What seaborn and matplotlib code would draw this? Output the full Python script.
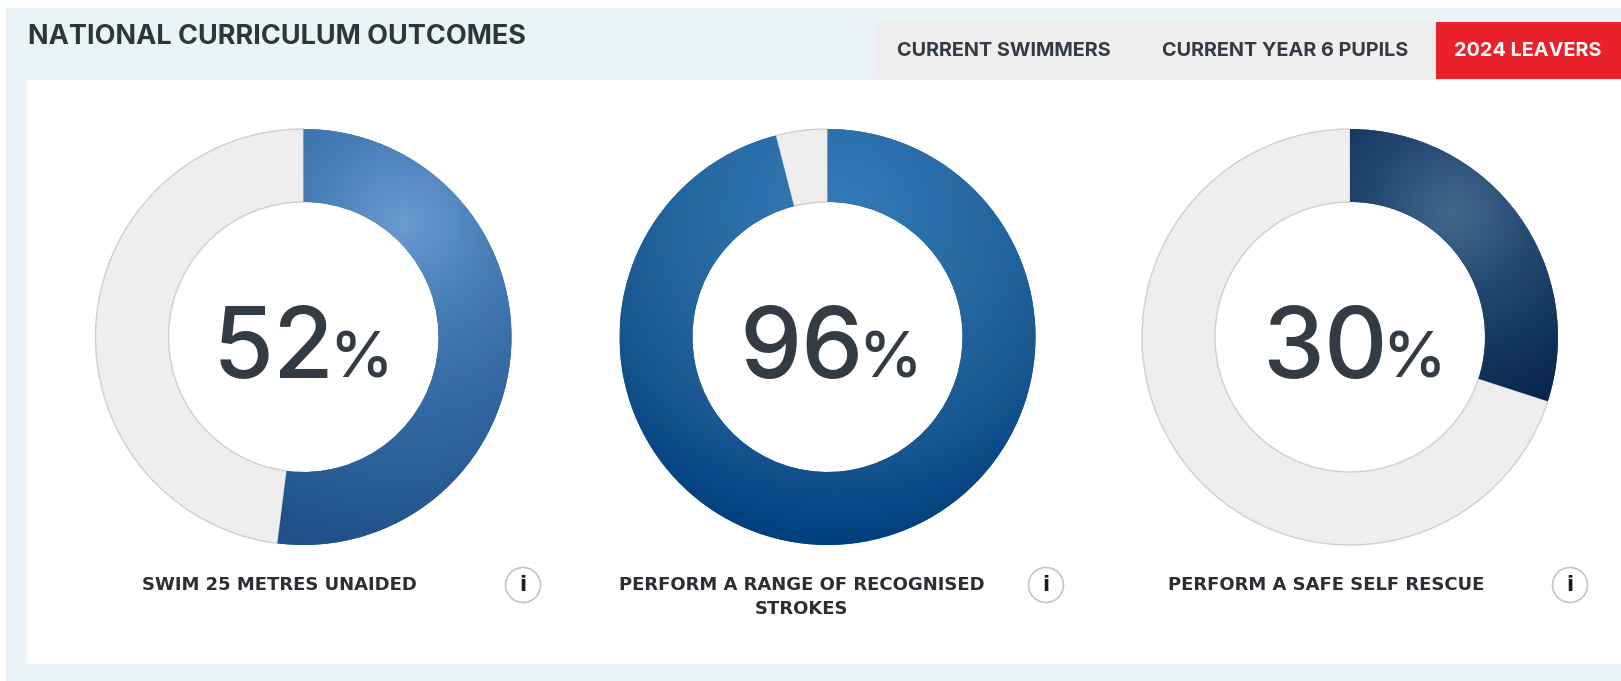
import matplotlib.pyplot as plt
from matplotlib.patches import Circle, Rectangle
import numpy as np
import seaborn as sns

# outcome values
captions = ["SWIM 25 METRES UNAIDED", "PERFORM A RANGE OF RECOGNISED\nSTROKES", "PERFORM A SAFE SELF RESCUE"]
percent = [52, 96, 30]
tabs = ["CURRENT SWIMMERS", "CURRENT YEAR 6 PUPILS", "2024 LEAVERS"]
title = "NATIONAL CURRICULUM OUTCOMES"

# pixel layout
W, H = 1621, 681
centers = [303.5, 827.5, 1350]
cy = 337
R = 208
r_in = 135
num_split = [335, 864, 1388]
cap_x = [279, 802, 1326]
info_x = [523, 1046, 1570]
tab_x = [1004, 1285, 1528]

# gradient stops per donut, highlight outwards
grad = [["#6a9bd1", "#4a80b8", "#376ca6", "#2a5f98", "#1f5087"],
        ["#347db8", "#2c70ab", "#24659f", "#175590", "#003f7d"],
        ["#44688c", "#234870", "#0f2f57", "#001f46", "#001a3f"]]
glow = [(0.48, 0.55), (0.05, 0.6), (0.5, 0.6)]

sns.set_theme(style="white")
plt.rcParams['font.family'] = ['Inter', 'DejaVu Sans']
ink = "#333b45"

fig = plt.figure(figsize=(W / 100, H / 100), dpi=100)
bg = fig.add_axes([0, 0, 1, 1])
bg.set_xlim(0, W)
bg.set_ylim(H, 0)
bg.axis("off")

# panels
bg.add_patch(Rectangle((6, 8), W - 6, H - 8, color="#eaf3f6", lw=0))
bg.add_patch(Rectangle((27, 80), W - 27, 584, color="white", lw=0))
bg.add_patch(Rectangle((874, 22), W - 874, 57, color="#eeeeee", lw=0))
bg.add_patch(Rectangle((1436, 22), W - 1436, 57, color="#e8212a", lw=0))

bg.text(28, 37, title, fontsize=19.5, fontweight="bold", color="#2f353b", va="center", ha="left")
for i, t in enumerate(tabs):
    bg.text(tab_x[i], 50.5, t, fontsize=14.3, fontweight="bold", va="center", ha="center",
            color="white" if i == 2 else ink)

pad = 1.02
for i, val in enumerate(percent):
    ax = fig.add_axes([(centers[i] - R * pad) / W, 1 - (cy + R * pad) / H, 2 * R * pad / W, 2 * R * pad / H])
    wedges, _ = ax.pie([val, 100 - val], startangle=90, counterclock=False, radius=1,
                       colors=["#2a6099", "#eeeeee"],
                       wedgeprops=dict(width=1 - r_in / R, edgecolor="none"))
    wedges[1].set_edgecolor("#cfcfcf")
    wedges[1].set_linewidth(1)

    # radial shading clipped to the value wedge
    gx, gy = np.meshgrid(np.linspace(-1, 1, 500), np.linspace(-1, 1, 500))
    dist = np.hypot(gx - glow[i][0], gy - glow[i][1])
    cmap = sns.blend_palette(grad[i], as_cmap=True)
    im = ax.imshow(dist, extent=(-1, 1, -1, 1), origin="lower", cmap=cmap, vmin=0, vmax=1.6, zorder=3)
    im.set_clip_path(wedges[0])
    ax.set_xlim(-pad, pad)
    ax.set_ylim(-pad, pad)
    ax.patch.set_alpha(0)

top = fig.add_axes([0, 0, 1, 1], zorder=5)
top.set_xlim(0, W)
top.set_ylim(H, 0)
top.axis("off")
for i, val in enumerate(percent):
    top.text(num_split[i], 378, str(val), fontsize=71, fontweight="medium", color=ink, ha="right", va="baseline")
    top.text(num_split[i] - 6, 378, "%", fontsize=46, fontweight="medium", color=ink, ha="left", va="baseline")
    lines = captions[i].split("\n")
    for j, line in enumerate(lines):
        top.text(cap_x[i], 585 + 24 * j, line, fontsize=13, fontweight="bold", color="#2b2e33",
                 family="DejaVu Sans", ha="center", va="center")
    top.add_patch(Circle((info_x[i], 585), 17.5, fc="white", ec="#c4c4c4", lw=1.2))
    top.text(info_x[i], 585, "i", fontsize=15, fontweight="bold", color="#1c1c1c",
             family="DejaVu Sans", ha="center", va="center")

fig.savefig("out.png", dpi=100)
